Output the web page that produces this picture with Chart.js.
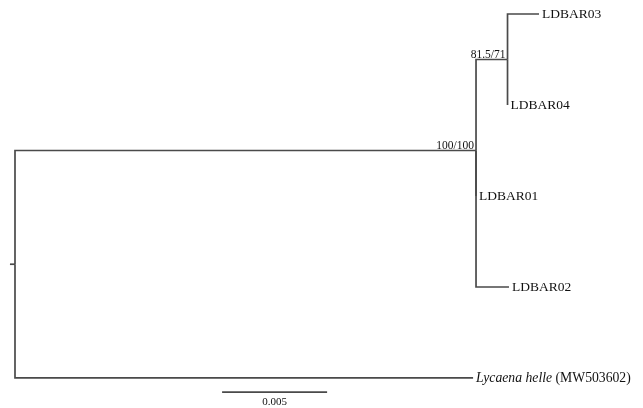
<!DOCTYPE html>
<html>
<head>
<meta charset="utf-8">
<script src="https://cdn.jsdelivr.net/npm/chart.js@4/dist/chart.umd.min.js"></script>
<style>
    body { margin: 0; background: #fff; }
    #TreeChart { display: block; }
</style>
</head>
<body>
<canvas id="TreeChart" width="643" height="408"></canvas>
<script>
// Tree nodes (parent before child)
const nodeIds = ['root', 'ingroup', 'clade34', 'LDBAR03', 'LDBAR04', 'LDBAR01', 'LDBAR02', 'outgroup'];
const nodeParents = [null, 'root', 'ingroup', 'clade34', 'clade34', 'ingroup', 'ingroup', 'root'];
const branchLengths = [0, 0.02195, 0.00150, 0.00150, 0, 0, 0.00157, 0.02181];
const nodeRows = [3.75, 2.5, 1.5, 1, 2, 3, 4, 5];
const tipNames = ['', '', '', 'LDBAR03', 'LDBAR04', 'LDBAR01', 'LDBAR02', 'Lycaena helle'];
const tipAccessions = ['', '', '', '', '', '', '', '(MW503602)'];
const supportValues = ['', '100/100', '81.5/71', '', '', '', '', ''];

// Scale bar
const scaleBarStart = 0.00986;
const scaleBarLength = 0.005;
const scaleBarRow = 5.155;
const scaleBarLabel = '0.005';
const rootStub = 0.00024;

const lineColor = '#4a4a4a';
const textColor = '#111111';

// cumulative distance from the root
var depths = [];
nodeIds.forEach(function (id, i) {
    var p = nodeParents[i];
    depths[i] = p === null ? 0 : depths[nodeIds.indexOf(p)] + branchLengths[i];
});

var datasets = [];

// root stub
datasets.push({
    data: [{ x: -rootStub, y: nodeRows[0] }, { x: 0, y: nodeRows[0] }]
});

// one elbow per branch: along the parent's vertical, then across
nodeIds.forEach(function (id, i) {
    var p = nodeParents[i];
    if (p === null) {
        return;
    }
    var pi = nodeIds.indexOf(p);
    datasets.push({
        data: [
            { x: depths[pi], y: nodeRows[pi] },
            { x: depths[pi], y: nodeRows[i] },
            { x: depths[i], y: nodeRows[i] }
        ]
    });
});

// scale bar
datasets.push({
    data: [{ x: scaleBarStart, y: scaleBarRow }, { x: scaleBarStart + scaleBarLength, y: scaleBarRow }]
});

datasets.forEach(function (d) {
    d.showLine = true;
    d.borderColor = lineColor;
    d.borderWidth = 1.7;
    d.pointRadius = 0;
    d.pointHoverRadius = 0;
    d.borderJoinStyle = 'miter';
    d.borderCapStyle = 'butt';
    d.fill = false;
});

const treeLabels = {
    id: 'treeLabels',
    afterDatasetsDraw: function (chart) {
        var ctx = chart.ctx;
        var xs = chart.scales.x;
        var ys = chart.scales.y;
        ctx.save();
        ctx.fillStyle = textColor;

        nodeIds.forEach(function (id, i) {
            var px = xs.getPixelForValue(depths[i]);
            var py = ys.getPixelForValue(nodeRows[i]);

            if (tipNames[i] !== '') {
                ctx.textAlign = 'left';
                ctx.textBaseline = 'middle';
                var tx = px + 3;
                if (tipAccessions[i] !== '') {
                    ctx.font = 'italic 13.7px "Liberation Serif"';
                    ctx.fillText(tipNames[i], tx, py);
                    tx += ctx.measureText(tipNames[i] + ' ').width;
                    ctx.font = '13.7px "Liberation Serif"';
                    ctx.fillText(tipAccessions[i], tx, py);
                } else {
                    ctx.font = '13.5px "Liberation Serif"';
                    ctx.fillText(tipNames[i], tx, py);
                }
            }

            if (supportValues[i] !== '') {
                ctx.font = '11.5px "Liberation Serif"';
                ctx.textAlign = 'right';
                ctx.textBaseline = 'alphabetic';
                ctx.fillText(supportValues[i], px - 2, py - 1.5);
            }
        });

        // scale bar label
        ctx.font = '11px "Liberation Serif"';
        ctx.textAlign = 'center';
        ctx.textBaseline = 'top';
        ctx.fillText(scaleBarLabel,
            xs.getPixelForValue(scaleBarStart + scaleBarLength / 2),
            ys.getPixelForValue(scaleBarRow) + 5);

        ctx.restore();
    }
};

new Chart(document.getElementById('TreeChart'), {
    type: 'scatter',
    data: { datasets: datasets },
    options: {
        responsive: false,
        animation: false,
        layout: { padding: 0 },
        plugins: {
            legend: { display: false },
            tooltip: { enabled: false }
        },
        scales: {
            x: {
                type: 'linear',
                display: false,
                min: -0.000714,
                max: 0.0299
            },
            y: {
                type: 'linear',
                display: false,
                reverse: true,
                min: 0.846,
                max: 5.33
            }
        }
    },
    plugins: [treeLabels]
});
</script>
</body>
</html>
